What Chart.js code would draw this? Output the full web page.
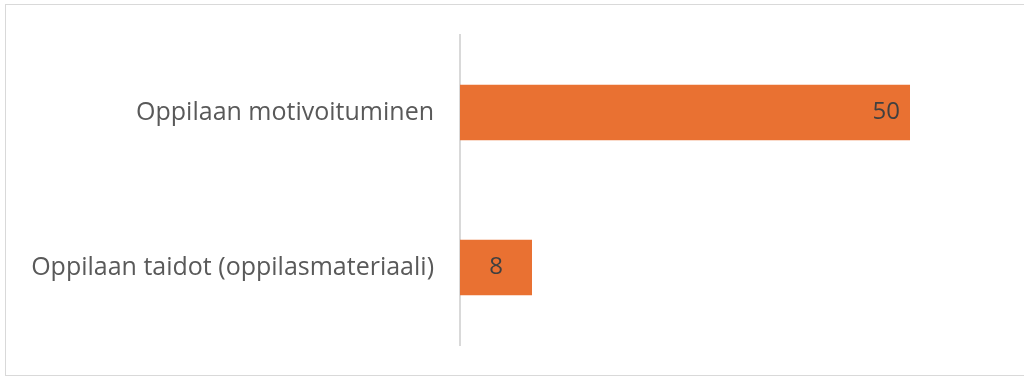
<!DOCTYPE html>
<html>
<head>
<meta charset="utf-8">
<script src="https://cdn.jsdelivr.net/npm/chart.js@4.4.1/dist/chart.umd.min.js"></script>
<style>
  html, body { margin: 0; padding: 0; background: #fff; }
  #wrap { position: relative; width: 1024px; height: 378px; overflow: hidden; }
  #frame { position: absolute; left: 5px; top: 4px; width: 1040px; height: 372px; border: 1px solid #d9d9d9; box-sizing: border-box; }
  canvas { position: absolute; left: 0; top: 0; }
</style>
</head>
<body>
<div id="wrap">
  <div id="frame"></div>
  <canvas id="barChart" width="1024" height="378"></canvas>
</div>
<script>
const categories = ['Oppilaan motivoituminen', 'Oppilaan taidot (oppilasmateriaali)'];
const counts = [50, 8];
const axisMax = 60;

const FONT = "'Open Sans', 'DejaVu Sans', sans-serif";

// value labels: inside the bar end, centred when the bar is short
const valueLabels = {
  id: 'valueLabels',
  afterDatasetsDraw(chart) {
    const ctx = chart.ctx;
    const meta = chart.getDatasetMeta(0);
    ctx.save();
    ctx.font = '24px ' + FONT;
    ctx.fillStyle = '#404040';
    ctx.textBaseline = 'middle';
    ctx.textAlign = 'center';
    meta.data.forEach((bar, i) => {
      const text = String(counts[i]);
      const w = ctx.measureText(text).width;
      const len = bar.x - bar.base;
      let x = bar.x - 10 - w / 2;
      if (len < 120) x = bar.base + len / 2;
      ctx.fillText(text, x, bar.y);
    });
    ctx.restore();
  }
};

new Chart(document.getElementById('barChart'), {
  type: 'bar',
  data: {
    labels: categories,
    datasets: [{
      data: counts,
      backgroundColor: '#E97132',
      borderWidth: 0,
      categoryPercentage: 1,
      barPercentage: 0.358
    }]
  },
  options: {
    indexAxis: 'y',
    responsive: false,
    animation: false,
    layout: { padding: { top: 35, bottom: 31, right: 24, left: 0 } },
    plugins: {
      legend: { display: false },
      tooltip: { enabled: false }
    },
    scales: {
      x: {
        display: false,
        min: 0,
        max: axisMax
      },
      y: {
        grid: { display: false },
        border: { display: true, color: '#d9d9d9', width: 2 },
        ticks: {
          color: '#595959',
          padding: 18,
          font: { family: FONT, size: 25 }
        },
        afterFit(scale) { scale.width = 460; }
      }
    }
  },
  plugins: [valueLabels]
});
</script>
</body>
</html>
